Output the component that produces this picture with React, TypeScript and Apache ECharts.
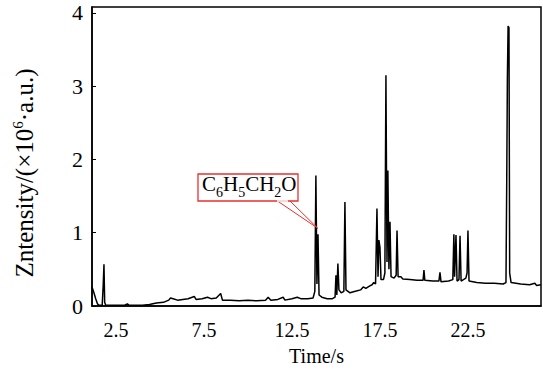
import React, { useEffect, useRef } from "react";
import * as echarts from "echarts";

const FONT = "Liberation Serif, Times New Roman, serif";

const times: number[] = [
  1.14, 1.25, 1.35, 1.45, 1.55, 1.72, 1.78, 1.82, 1.86, 1.92,
  2.5, 3.0, 3.15, 3.25, 4.0, 4.4, 4.8, 5.2, 5.5, 5.6,
  5.75, 6.0, 6.3, 6.6, 6.95, 7.05, 7.4, 7.7, 7.9, 8.2,
  8.45, 8.55, 9.0, 9.5, 10.0, 10.5, 11.0, 11.15, 11.3, 11.7,
  12.0, 12.1, 12.5, 12.8, 13.0, 13.4, 13.7, 13.8, 13.86, 13.92,
  13.98, 14.04, 14.2, 14.5, 14.8, 14.95, 15.0, 15.05, 15.11, 15.17,
  15.3, 15.45, 15.51, 15.57, 15.8, 16.1, 16.4, 16.55, 16.7, 16.9,
  17.05, 17.15, 17.25, 17.33, 17.39, 17.44, 17.5, 17.56, 17.7, 17.78,
  17.84, 17.9, 17.95, 18.01, 18.07, 18.13, 18.3, 18.42, 18.47, 18.53,
  18.69, 18.8, 19.2, 19.6, 19.95, 20.0, 20.05, 20.5, 20.85, 20.91,
  20.97, 21.4, 21.64, 21.7, 21.74, 21.82, 21.88, 21.99, 22.05, 22.11,
  22.38, 22.45, 22.5, 22.56, 23.0, 23.5, 24.0, 24.5, 24.66, 24.7,
  24.74, 24.78, 24.83, 24.87, 24.95, 25.5, 26.0, 26.3, 26.4, 26.65,
];

const intensity: number[] = [
  0.26, 0.18, 0.1, 0.03, 0.01, 0.01, 0.3, 0.57, 0.05, 0.01,
  0.01, 0.01, 0.03, 0.01, 0.01, 0.02, 0.04, 0.05, 0.08, 0.11,
  0.1, 0.08, 0.09, 0.1, 0.13, 0.09, 0.1, 0.12, 0.1, 0.11,
  0.17, 0.08, 0.08, 0.07, 0.08, 0.07, 0.08, 0.12, 0.08, 0.09,
  0.12, 0.08, 0.1, 0.12, 0.1, 0.1, 0.11, 0.2, 1.78, 0.3,
  0.98, 0.15, 0.12, 0.1, 0.1, 0.12, 0.42, 0.15, 0.58, 0.22,
  0.18, 0.2, 1.42, 0.22, 0.18, 0.2, 0.22, 0.26, 0.24, 0.27,
  0.29, 0.32, 0.3, 1.33, 0.4, 0.9, 0.8, 0.36, 0.36, 0.45,
  3.15, 0.6, 1.85, 0.5, 1.15, 0.4, 0.38, 0.42, 1.03, 0.4,
  0.4, 0.37, 0.36, 0.35, 0.35, 0.49, 0.35, 0.34, 0.34, 0.46,
  0.33, 0.34, 0.36, 0.98, 0.4, 0.97, 0.34, 0.36, 0.96, 0.34,
  0.38, 0.45, 1.03, 0.34, 0.32, 0.31, 0.31, 0.3, 0.32, 1.6,
  3.1, 3.82, 3.8, 0.45, 0.32, 0.3, 0.29, 0.31, 0.28, 0.29,
];

const xTickLabels: number[] = [2.5, 7.5, 12.5, 17.5, 22.5];
const yTicks: number[] = [0, 1, 2, 3, 4];
const annotationPoint: number[] = [13.97, 1.06];
const xTitle = "Time/s";
const yTitle = "{n|Zntensity/(×10}{sup|6}{n|·a.u.)}";
// [text, isSubscript]
const annotationParts: [string, boolean][] = [
  ["C", false], ["6", true], ["H", false], ["5", true], ["CH", false], ["2", true], ["O", false],
];

function measure(text: string, size: number): number {
  const c = document.createElement("canvas").getContext("2d");
  if (!c) return text.length * size * 0.6;
  c.font = `${size}px ${FONT}`;
  return c.measureText(text).width;
}

export default function App() {
  const ref = useRef<HTMLDivElement>(null);

  useEffect(() => {
    document.body.style.margin = "0";
    if (!ref.current) return;
    const chart = echarts.init(ref.current, null, { renderer: "svg" });
    const data = times.map((t, i) => [t, intensity[i]]);
    chart.setOption({
      animation: false,
      backgroundColor: "#fff",
      textStyle: { fontFamily: FONT, color: "#000" },
      grid: {
        left: 92,
        right: 2,
        top: 7,
        bottom: 66,
        show: true,
        borderColor: "#000",
        borderWidth: 1.5,
        backgroundColor: "transparent",
      },
      xAxis: {
        type: "value",
        min: 1.14,
        max: 26.65,
        name: xTitle,
        nameLocation: "middle",
        nameGap: 40,
        nameTextStyle: { fontFamily: FONT, fontSize: 20, color: "#000" },
        axisLine: { show: true, lineStyle: { color: "#000", width: 1.5 } },
        axisTick: { show: false },
        splitLine: { show: false },
        axisLabel: {
          customValues: xTickLabels,
          fontFamily: FONT,
          fontSize: 20,
          color: "#000",
          margin: 14,
          formatter: (v: number) => v.toFixed(1),
        },
      },
      yAxis: {
        type: "value",
        min: 0,
        max: 4.08,
        axisLine: { show: true, lineStyle: { color: "#000", width: 1.5 } },
        axisTick: {
          show: true,
          inside: true,
          length: 4,
          customValues: yTicks,
          lineStyle: { color: "#000" },
        },
        splitLine: { show: false },
        axisLabel: {
          customValues: yTicks,
          fontFamily: FONT,
          fontSize: 22,
          color: "#000",
          margin: 9,
          padding: [8, 0, 0, 0],
        },
      },
      series: [
        {
          type: "line",
          data,
          showSymbol: false,
          symbol: "none",
          lineStyle: { color: "#000", width: 1.5 },
        },
      ],
    });

    const tip = chart.convertToPixel({ gridIndex: 0 }, annotationPoint) as number[];

    const mainSize = 21;
    const subSize = 14;
    const baseY = 194;
    let cx = 202;
    const textEls = annotationParts.map(([t, sub]) => {
      const size = sub ? subSize : mainSize;
      const el = {
        type: "text",
        x: cx,
        y: sub ? baseY + 5 : baseY,
        z: 103,
        style: {
          text: t,
          fontFamily: FONT,
          fontSize: size,
          fill: "#000",
          align: "left",
          verticalAlign: "bottom",
        },
      };
      cx += measure(t, size);
      return el;
    });

    chart.setOption({
      graphic: [
        {
          type: "text",
          x: 24,
          y: 173,
          rotation: Math.PI / 2,
          style: {
            text: yTitle,
            align: "center",
            verticalAlign: "middle",
            rich: {
              n: { fontFamily: FONT, fontSize: 25, fill: "#000", lineHeight: 28, verticalAlign: "middle" },
              sup: { fontFamily: FONT, fontSize: 15, fill: "#000", lineHeight: 15, verticalAlign: "top" },
            },
          },
        },
        {
          type: "polygon",
          shape: { points: [[276, 200], [289, 200], [tip[0], tip[1]]] },
          style: { fill: "#fff", stroke: "#e8302d", lineWidth: 1 },
          z: 100,
        },
        {
          type: "rect",
          shape: { x: 198, y: 174, width: 100, height: 27 },
          style: { fill: "#fff", stroke: "#e8302d", lineWidth: 1.3 },
          z: 101,
        },
        {
          type: "line",
          shape: { x1: 277, y1: 201, x2: 288, y2: 201 },
          style: { stroke: "#fff", lineWidth: 1.5 },
          z: 102,
        },
        ...textEls,
      ],
    });

    return () => chart.dispose();
  }, []);

  return <div ref={ref} style={{ width: 543, height: 372 }} />;
}
